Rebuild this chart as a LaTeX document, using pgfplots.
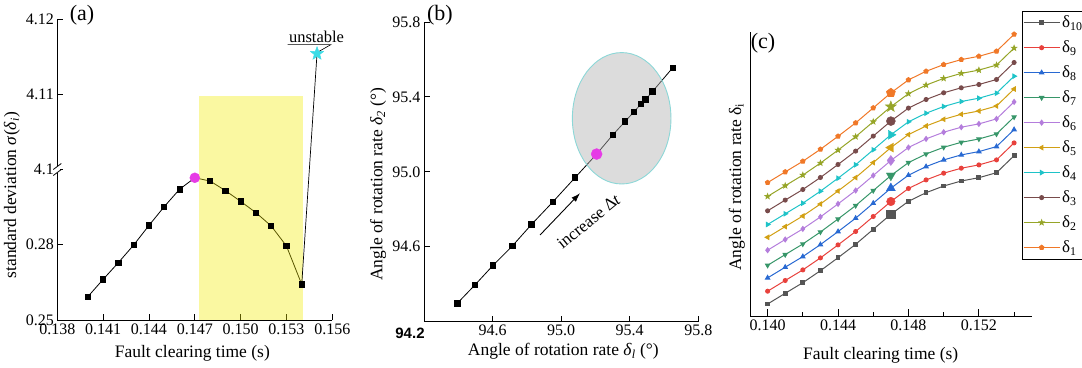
\documentclass[border=0pt]{standalone}
\usepackage{fontspec}
\setmainfont{Liberation Serif}
\newfontfamily\sansf{Liberation Sans}
\usepackage{pgfplots}
\pgfplotsset{compat=1.18}
\usepackage{pgfplotstable}
\usetikzlibrary{arrows.meta}

\definecolor{cten}{RGB}{85,85,85}
\definecolor{cnine}{RGB}{232,65,60}
\definecolor{ceight}{RGB}{40,105,210}
\definecolor{cseven}{RGB}{55,150,105}
\definecolor{csix}{RGB}{180,125,220}
\definecolor{cfive}{RGB}{210,160,20}
\definecolor{cfour}{RGB}{30,195,200}
\definecolor{cthree}{RGB}{120,75,75}
\definecolor{ctwo}{RGB}{150,165,40}
\definecolor{cone}{RGB}{240,120,40}
\definecolor{cmag}{RGB}{230,60,230}
\definecolor{cstar}{RGB}{60,220,230}
\definecolor{cyel}{RGB}{242,235,0}
\definecolor{cellfill}{RGB}{178,178,178}
\definecolor{celledge}{RGB}{140,215,215}

\pgfdeclareplotmark{fstar}{%
  \pgfpathmoveto{\pgfpointpolar{90}{\pgfplotmarksize}}%
  \pgfpathlineto{\pgfpointpolar{126}{0.42\pgfplotmarksize}}%
  \pgfpathlineto{\pgfpointpolar{162}{\pgfplotmarksize}}%
  \pgfpathlineto{\pgfpointpolar{198}{0.42\pgfplotmarksize}}%
  \pgfpathlineto{\pgfpointpolar{234}{\pgfplotmarksize}}%
  \pgfpathlineto{\pgfpointpolar{270}{0.42\pgfplotmarksize}}%
  \pgfpathlineto{\pgfpointpolar{306}{\pgfplotmarksize}}%
  \pgfpathlineto{\pgfpointpolar{342}{0.42\pgfplotmarksize}}%
  \pgfpathlineto{\pgfpointpolar{18}{\pgfplotmarksize}}%
  \pgfpathlineto{\pgfpointpolar{54}{0.42\pgfplotmarksize}}%
  \pgfpathclose
  \pgfusepathqfillstroke}

% (a) standard deviation vs clearing time (lower segment, real values)
\pgfplotstableread{
t s
0.140 0.2593
0.141 0.2662
0.142 0.2729
0.143 0.2799
0.144 0.2877
0.145 0.2952
0.146 0.3021
0.147 0.3067
0.148 0.3054
0.149 0.3016
0.150 0.2973
0.151 0.2928
0.152 0.2875
0.153 0.2795
0.154 0.2642
}\dataA
\pgfplotstableread{
t s
0.154 0.2642
0.155 4.1154
}\dataAjump
\pgfplotstableread{
t s
0.155 4.1154
}\dataAstar
\pgfplotstableread{
t s
0.147 0.3067
}\dataAmag

% (b) delta1 vs delta2
\pgfplotstableread{
a b
94.394 94.298
94.497 94.396
94.601 94.499
94.715 94.604
94.828 94.720
94.951 94.839
95.081 94.969
95.207 95.095
95.301 95.197
95.372 95.268
95.425 95.321
95.466 95.362
95.493 95.387
95.532 95.428
95.651 95.556
}\dataB

% (c) rotor angles (arbitrary units)
\pgfplotstableread{
t d10 d9 d8 d7 d6 d5 d4 d3 d2 d1
0.140 12.7 25.5 38.8 51.4 66.5 79.4 92.2 105.9 120.3 134.1
0.141 23.4 36.2 49.5 62.1 77.2 90.1 102.9 116.6 131.0 144.8
0.142 34.0 46.8 60.1 72.7 87.8 100.7 113.5 127.2 141.6 155.4
0.143 46.0 58.8 72.1 84.7 99.8 112.7 125.5 139.2 153.6 167.4
0.144 59.0 71.8 85.1 97.7 112.8 125.7 138.5 152.2 166.6 180.4
0.145 72.4 85.2 98.5 111.1 126.2 139.1 151.9 165.6 180.0 193.8
0.146 87.4 100.2 113.5 126.1 141.2 154.1 166.9 180.6 195.0 208.8
0.147 102.4 115.2 128.5 141.1 156.2 169.1 181.9 195.6 210.0 223.8
0.148 115.4 128.2 141.5 154.1 169.2 182.1 194.9 208.6 223.0 236.8
0.149 124.0 136.8 150.1 162.7 177.8 190.7 203.5 217.2 231.6 245.4
0.150 130.7 143.5 156.8 169.4 184.5 197.4 210.2 223.9 238.3 252.1
0.151 135.7 148.5 161.8 174.4 189.5 202.4 215.2 228.9 243.3 257.1
0.152 139.0 151.8 165.1 177.7 192.8 205.7 218.5 232.2 246.6 260.4
0.153 144.0 156.8 170.1 182.7 197.8 210.7 223.5 237.2 251.6 265.4
0.154 161.0 173.8 187.1 199.7 214.8 227.7 240.5 254.2 268.6 282.4
}\dataC

\pgfplotsset{
  myax/.style={
    scale only axis, anchor=south west, axis lines*=left, tick align=inside,
    clip=false,
    axis line style={line width=0.9pt,black},
    every tick/.style={black,line width=0.9pt},
    major tick length=6pt,
    ticklabel style={font=\fontsize{16}{16}\selectfont},
    label style={font=\fontsize{17.5}{17.5}\selectfont},
  },
}

\begin{document}
\begin{tikzpicture}
% ---------------- (a) ----------------
\begin{axis}[myax, at={(57.3pt,47pt)}, width=275pt, height=301pt,
  xmin=0.138, xmax=0.156, ymin=0, ymax=4,
  xtick={0.138,0.141,0.144,0.147,0.150,0.153,0.156},
  xticklabels={0.138,0.141,0.144,0.147,0.150,0.153,0.156},
  ytick={0,1,2,3,4},
  yticklabels={0.25,0.28,4.1,4.11,4.12},
  xlabel={Fault clearing time (s)},
  ylabel={standard deviation \textit{σ}(\textit{δ}\textsubscript{\textit{i}})},
  xlabel style={at={(axis description cs:0.491,-0.11)},anchor=center},
  ylabel style={at={(axis description cs:-0.165,0.415)},anchor=center},
]
\addplot[black, line width=0.8pt, mark=square*, mark size=2.6pt]
  table[x=t, y expr={(\thisrow{s}-0.25)/0.03}] {\dataA};
\addplot[only marks, mark=*, mark size=5pt, color=cmag]
  table[x=t, y expr={(\thisrow{s}-0.25)/0.03}] {\dataAmag};
\fill[cyel, opacity=0.37] (axis cs:0.1473,0) rectangle (axis cs:0.1541,2.977);
\addplot[black, line width=0.7pt]
  table[x=t, y expr={\thisrow{s}<1 ? (\thisrow{s}-0.25)/0.03 : 2+(\thisrow{s}-4.1)/0.01}] {\dataAjump};
\addplot[only marks, mark=fstar, mark size=7pt, color=cstar]
  table[x=t, y expr={2+(\thisrow{s}-4.1)/0.01}] {\dataAstar};
\node[font=\fontsize{16.5}{16.5}\selectfont] at (axis cs:0.15497,3.76) {unstable};
\draw[line width=0.6pt] (axis cs:0.15307,3.66) -- (axis cs:0.15591,3.66) -- (axis cs:0.15505,3.56);
% axis break marks
\fill[white] ([xshift=-3pt]axis cs:0.138,1.96) rectangle ([xshift=3pt]axis cs:0.138,2.04);
\draw[line width=0.8pt] ([xshift=-4pt,yshift=-3pt]axis cs:0.138,1.96) -- ++(8pt,6pt);
\draw[line width=0.8pt] ([xshift=-4pt,yshift=-3pt]axis cs:0.138,2.04) -- ++(8pt,6pt);
\node[font=\fontsize{22}{22}\selectfont] at (axis cs:0.13962,4.053) {(a)};
\end{axis}

% ---------------- (b) ----------------
\begin{axis}[myax, at={(424pt,45.3pt)}, width=274.3pt, height=299.7pt,
  xmin=94.2, xmax=95.8, ymin=94.2, ymax=95.8,
  xtick={94.6,95.0,95.4,95.8}, xticklabels={94.6,95.0,95.4,95.8},
  ytick={94.6,95.0,95.4,95.8}, yticklabels={94.6,95.0,95.4,95.8},
  xlabel={Angle of rotation rate \textit{δ}\textsubscript{\textit{l}} (°)},
  ylabel={Angle of rotation rate \textit{δ}\textsubscript{\textit{2}} (°)},
  xlabel style={at={(axis description cs:0.508,-0.1)},anchor=center},
  ylabel style={at={(axis description cs:-0.167,0.459)},anchor=center},
]
\addplot[black, line width=0.8pt, mark=square*, mark size=2.8pt] table[x=a,y=b] {\dataB};
\addplot[only marks, mark=*, mark size=5.5pt, color=cmag] coordinates {(95.207,95.095)};
\draw[draw=celledge, line width=0.9pt, fill=cellfill, fill opacity=0.45]
  (axis cs:95.353,95.286) ellipse [x radius=49.3pt, y radius=65.7pt];
\draw[-{Latex[length=9pt,width=6pt]}, line width=0.9pt]
  (axis cs:94.877,94.663) -- (axis cs:95.110,94.886);
\node[rotate=39, font=\fontsize{17}{17}\selectfont] at (axis cs:95.160,94.735) {increase Δ\textit{t}};
\node[font=\fontsize{22}{22}\selectfont] at (axis cs:94.293,95.837) {(b)};
\node[font=\sansf\bfseries\fontsize{15}{15}\selectfont] at ([xshift=-14pt,yshift=-11.3pt]axis cs:94.2,94.2) {94.2};
\end{axis}

% ---------------- (c) ----------------
\begin{axis}[myax, at={(750pt,50.3pt)}, width=281.7pt, height=285pt,
  xmin=0.139, xmax=0.155, ymin=0, ymax=285,
  xtick={0.140,0.144,0.148,0.152}, xticklabels={0.140,0.144,0.148,0.152},
  minor xtick={0.142,0.146,0.150,0.154},
  ytick=\empty,
  major tick length=8pt, minor tick length=5pt,
  every minor tick/.style={black,line width=0.9pt},
  xlabel={Fault clearing time (s)},
  ylabel={Angle of rotation rate δ\textsubscript{i}},
  xlabel style={at={(axis description cs:0.464,-0.134)},anchor=center},
  ylabel style={at={(axis description cs:-0.047,0.455)},anchor=center},
  legend image code/.code={\draw[mark repeat=2,mark phase=2,#1] plot coordinates {(0pt,0pt) (18pt,0pt) (36pt,0pt)};},
  legend style={at={(0.9645,1.074)}, anchor=north west, draw=black, line width=0.9pt,
    font=\fontsize{17}{17}\selectfont, inner xsep=1pt, inner ysep=3pt, row sep=7.6pt},
  legend cell align=left,
]
\addplot[cten, line width=1pt, mark=square*, mark size=1.9pt] table[x=t,y=d10] {\dataC};
\addlegendentry{δ\textsubscript{10}\hspace*{10pt}}
\addplot[cnine, line width=1pt, mark=*, mark size=2pt] table[x=t,y=d9] {\dataC};
\addlegendentry{δ\textsubscript{9}}
\addplot[ceight, line width=1pt, mark=triangle*, mark size=2.4pt] table[x=t,y=d8] {\dataC};
\addlegendentry{δ\textsubscript{8}}
\addplot[cseven, line width=1pt, mark=triangle*, mark size=2.4pt, mark options={rotate=180}] table[x=t,y=d7] {\dataC};
\addlegendentry{δ\textsubscript{7}}
\addplot[csix, line width=1pt, mark=diamond*, mark size=2.4pt] table[x=t,y=d6] {\dataC};
\addlegendentry{δ\textsubscript{6}}
\addplot[cfive, line width=1pt, mark=triangle*, mark size=2.4pt, mark options={rotate=90}] table[x=t,y=d5] {\dataC};
\addlegendentry{δ\textsubscript{5}}
\addplot[cfour, line width=1pt, mark=triangle*, mark size=2.4pt, mark options={rotate=-90}] table[x=t,y=d4] {\dataC};
\addlegendentry{δ\textsubscript{4}}
\addplot[cthree, line width=1pt, mark=*, mark size=2pt] table[x=t,y=d3] {\dataC};
\addlegendentry{δ\textsubscript{3}}
\addplot[ctwo, line width=1pt, mark=fstar, mark size=2.4pt] table[x=t,y=d2] {\dataC};
\addlegendentry{δ\textsubscript{2}}
\addplot[cone, line width=1pt, mark=pentagon*, mark size=2.3pt] table[x=t,y=d1] {\dataC};
\addlegendentry{δ\textsubscript{1}}
% enlarged markers at t = 0.147
\addplot[forget plot, only marks, cten, mark=square*, mark size=4.2pt] coordinates {(0.147,102.4)};
\addplot[forget plot, only marks, cnine, mark=*, mark size=4.3pt] coordinates {(0.147,115.2)};
\addplot[forget plot, only marks, ceight, mark=triangle*, mark size=5.2pt] coordinates {(0.147,128.5)};
\addplot[forget plot, only marks, cseven, mark=triangle*, mark size=5.2pt, mark options={rotate=180}] coordinates {(0.147,141.1)};
\addplot[forget plot, only marks, csix, mark=diamond*, mark size=5pt] coordinates {(0.147,156.2)};
\addplot[forget plot, only marks, cfive, mark=triangle*, mark size=5.2pt, mark options={rotate=90}] coordinates {(0.147,169.1)};
\addplot[forget plot, only marks, cfour, mark=triangle*, mark size=5.2pt, mark options={rotate=-90}] coordinates {(0.147,181.9)};
\addplot[forget plot, only marks, cthree, mark=*, mark size=4.5pt] coordinates {(0.147,195.6)};
\addplot[forget plot, only marks, ctwo, mark=fstar, mark size=5.8pt] coordinates {(0.147,210.0)};
\addplot[forget plot, only marks, cone, mark=pentagon*, mark size=4.8pt] coordinates {(0.147,223.8)};
\node[font=\fontsize{22}{22}\selectfont] at (axis cs:0.13974,273.7) {(c)};
\end{axis}
\pgfresetboundingbox
\path[use as bounding box] (0pt,0pt) rectangle (1082pt,367pt);
\end{tikzpicture}
\end{document}
